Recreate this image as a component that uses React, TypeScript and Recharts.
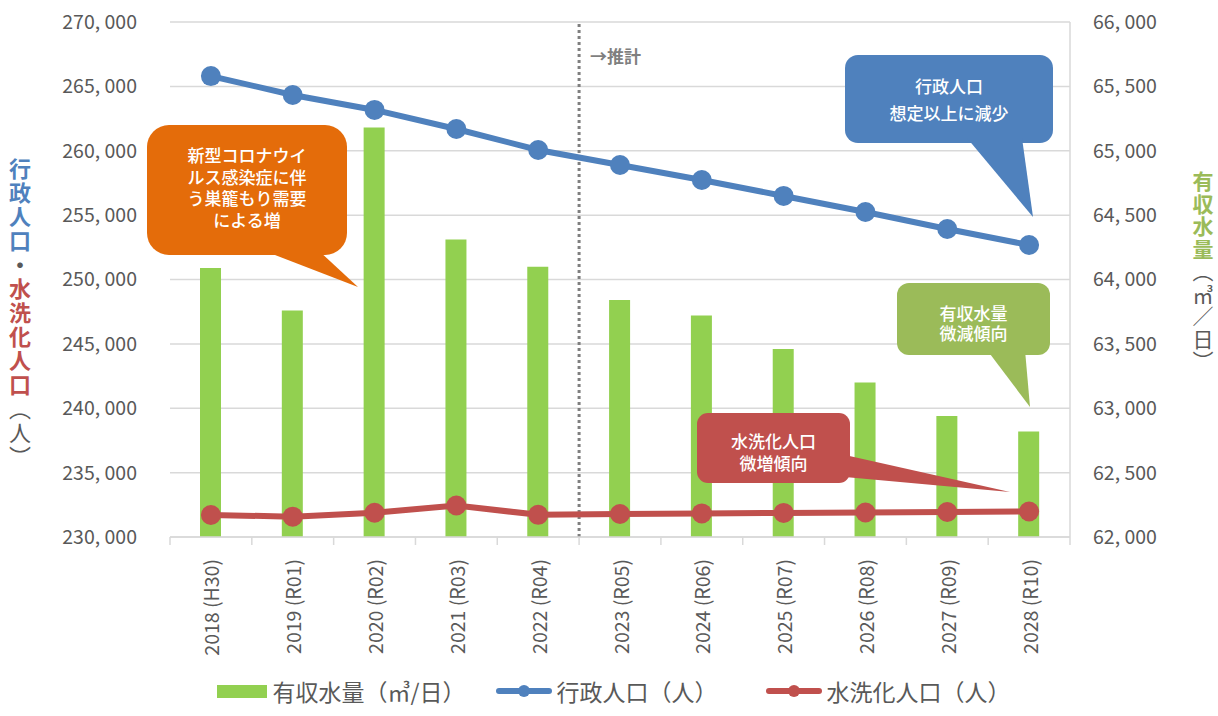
import {
  ComposedChart,
  Bar,
  Line,
  XAxis,
  YAxis,
  CartesianGrid,
  ReferenceLine,
  Legend,
} from "recharts";

const years = [
  "2018 (H30)", "2019 (R01)", "2020 (R02)", "2021 (R03)", "2022 (R04)", "2023 (R05)",
  "2024 (R06)", "2025 (R07)", "2026 (R08)", "2027 (R09)", "2028 (R10)",
];
// 有収水量 (m3/日) - right axis
const waterVolume = [64090, 63760, 65180, 64310, 64100, 63840, 63720, 63460, 63200, 62940, 62820];
// 行政人口 (人) - left axis
const adminPop = [265800, 264330, 263170, 261690, 260060, 258890, 257730, 256490, 255240, 253920, 252680];
// 水洗化人口 (人) - left axis
const sewerPop = [231710, 231580, 231880, 232450, 231720, 231790, 231830, 231870, 231900, 231940, 231980];

const leftTicks = [230000, 235000, 240000, 245000, 250000, 255000, 260000, 265000, 270000];
const rightTicks = [62000, 62500, 63000, 63500, 64000, 64500, 65000, 65500, 66000];
const forecastStart = "2023 (R05)";

const FONT = "'Noto Sans CJK JP', 'Noto Sans', sans-serif";
const TEXT = "#595959";
const GREEN = "#92d050";
const BLUE = "#4f81bd";
const RED = "#c0504d";
const HALF_BAND = 900 / 11 / 2;

const data = years.map((y, i) => ({
  year: y,
  water: waterVolume[i],
  admin: adminPop[i],
  sewer: sewerPop[i],
}));

// Excel-style "270, 000" look
const fmt = (v: number) => v.toLocaleString("en-US").replace(/,/g, ", ");

function XTick(props: any) {
  const { x, y, payload, index } = props;
  return (
    <g>
      <line x1={x - HALF_BAND} y1={y} x2={x - HALF_BAND} y2={y + 8} stroke="#d9d9d9" strokeWidth={1.5} />
      {index === years.length - 1 && (
        <line x1={x + HALF_BAND} y1={y} x2={x + HALF_BAND} y2={y + 8} stroke="#d9d9d9" strokeWidth={1.5} />
      )}
      <text
        x={x}
        y={y + 22}
        transform={`rotate(-90 ${x} ${y + 22})`}
        textAnchor="end"
        dominantBaseline="central"
        fill={TEXT}
        fontSize={19.5}
        fontFamily={FONT}
      >
        {payload.value}
      </text>
    </g>
  );
}

function LegendContent() {
  const item = { display: "flex", alignItems: "center", gap: 5 } as const;
  return (
    <div
      style={{
        display: "flex",
        justifyContent: "center",
        alignItems: "center",
        fontFamily: FONT,
        fontSize: 23,
        color: TEXT,
        height: 40,
        marginTop: -5,
        paddingLeft: 10,
      }}
    >
      <div style={{ ...item, marginRight: 30 }}>
        <div style={{ width: 50, height: 13, background: GREEN }} />
        <span>有収水量（㎥/日）</span>
      </div>
      <div style={{ ...item, marginRight: 48 }}>
        <svg width={56} height={14}>
          <line x1={3} y1={7} x2={53} y2={7} stroke={BLUE} strokeWidth={6} strokeLinecap="round" />
          <circle cx={28} cy={7} r={6} fill={BLUE} />
        </svg>
        <span>行政人口（人）</span>
      </div>
      <div style={item}>
        <svg width={56} height={14}>
          <line x1={3} y1={7} x2={53} y2={7} stroke={RED} strokeWidth={6} strokeLinecap="round" />
          <circle cx={28} cy={7} r={6} fill={RED} />
        </svg>
        <span>水洗化人口（人）</span>
      </div>
    </div>
  );
}

function Callout(props: {
  x: number; y: number; w: number; h: number; r: number;
  tail: [number, number][]; fill: string; lines: string[]; lineY: number[];
}) {
  const { x, y, w, h, r, tail, fill, lines, lineY } = props;
  const cx = x + w / 2;
  return (
    <g>
      <rect x={x} y={y} width={w} height={h} rx={r} ry={r} fill={fill} />
      <polygon points={tail.map((p) => p.join(",")).join(" ")} fill={fill} />
      {lines.map((t, i) => (
        <text
          key={i}
          x={cx}
          y={lineY[i]}
          textAnchor="middle"
          dominantBaseline="central"
          fill="#ffffff"
          fontSize={17}
          fontWeight={500}
          fontFamily={FONT}
        >
          {t}
        </text>
      ))}
    </g>
  );
}

export default function App() {
  return (
    <div style={{ position: "absolute", left: 0, top: 0, width: 1218, height: 716, background: "#fff", fontFamily: FONT, overflow: "hidden" }}>
      <ComposedChart
        width={1218}
        height={716}
        data={data}
        margin={{ top: 22, right: 0, left: 0, bottom: 0 }}
      >
        <CartesianGrid vertical={false} stroke="#d9d9d9" strokeWidth={1.5} yAxisId="left" />
        <XAxis
          dataKey="year"
          height={139}
          interval={0}
          tickSize={0}
          tickMargin={0}
          tickLine={false}
          axisLine={{ stroke: "#d9d9d9", strokeWidth: 1.5 }}
          tick={<XTick />}
        />
        <YAxis
          yAxisId="left"
          domain={[230000, 270000]}
          ticks={leftTicks}
          allowDataOverflow
          width={170}
          axisLine={false}
          tickLine={false}
          tickSize={0}
          tickMargin={33}
          tickFormatter={fmt}
          tick={{ fill: TEXT, fontSize: 19.5, fontFamily: FONT }}
        />
        <YAxis
          yAxisId="right"
          orientation="right"
          domain={[62000, 66000]}
          ticks={rightTicks}
          allowDataOverflow
          width={148}
          axisLine={{ stroke: "#d9d9d9", strokeWidth: 1.5 }}
          tickLine={false}
          tickSize={0}
          tickMargin={23}
          tickFormatter={fmt}
          tick={{ fill: TEXT, fontSize: 19.5, fontFamily: FONT }}
        />
        <Bar yAxisId="right" dataKey="water" name="有収水量（㎥/日）" barSize={21} fill={GREEN} isAnimationActive={false} />
        <ReferenceLine
          yAxisId="left"
          x={forecastStart}
          position="start"
          stroke="#7f7f7f"
          strokeWidth={3}
          strokeDasharray="3 3"
        />
        <Line
          yAxisId="left"
          dataKey="admin"
          name="行政人口（人）"
          stroke={BLUE}
          strokeWidth={6}
          dot={{ r: 10, fill: BLUE, stroke: BLUE, strokeWidth: 0 }}
          isAnimationActive={false}
        />
        <Line
          yAxisId="left"
          dataKey="sewer"
          name="水洗化人口（人）"
          stroke={RED}
          strokeWidth={6}
          dot={{ r: 10, fill: RED, stroke: RED, strokeWidth: 0 }}
          isAnimationActive={false}
        />
        <Legend verticalAlign="bottom" height={40} content={<LegendContent />} />
      </ComposedChart>

      <svg
        width={1218}
        height={716}
        style={{ position: "absolute", left: 0, top: 0, pointerEvents: "none" }}
      >
        <text x={590} y={55} dominantBaseline="central" fill="#7f7f7f" fontSize={17} fontWeight={600} fontFamily={FONT}>
          →推計
        </text>
        <Callout
          x={147} y={125} w={200} h={130} r={22}
          tail={[[262, 250], [318, 250], [358, 287]]}
          fill="#e46c0a"
          lines={["新型コロナウイ", "ルス感染症に伴", "う巣籠もり需要", "による増"]}
          lineY={[154, 176, 197, 219]}
        />
        <Callout
          x={845} y={55} w={208} h={88} r={13}
          tail={[[967, 138], [1022, 138], [1033, 217]]}
          fill={BLUE}
          lines={["行政人口", "想定以上に減少"]}
          lineY={[85, 112]}
        />
        <Callout
          x={897} y={283} w={153} h={72} r={12}
          tail={[[987, 350], [1025, 350], [1030, 407]]}
          fill="#9bbb59"
          lines={["有収水量", "微減傾向"]}
          lineY={[312, 332]}
        />
        <Callout
          x={697} y={413} w={153} h={70} r={11}
          tail={[[845, 455], [845, 477], [1010, 492]]}
          fill={RED}
          lines={["水洗化人口", "微増傾向"]}
          lineY={[440, 462]}
        />
      </svg>

      <div
        style={{
          position: "absolute",
          left: 8,
          top: 158,
          width: 24,
          writingMode: "vertical-rl",
          fontSize: 22,
          lineHeight: "24px",
          letterSpacing: 2,
          fontFamily: FONT,
          color: TEXT,
        }}
      >
        <span style={{ color: BLUE, fontWeight: 700 }}>行政人口</span>
        <span style={{ fontWeight: 700 }}>・</span>
        <span style={{ color: RED, fontWeight: 700 }}>水洗化人口</span>
        <span>（人）</span>
      </div>
      <div
        style={{
          position: "absolute",
          left: 1191,
          top: 171,
          width: 24,
          writingMode: "vertical-rl",
          fontSize: 21,
          lineHeight: "24px",
          letterSpacing: 1.5,
          fontFamily: FONT,
          color: TEXT,
        }}
      >
        <span style={{ color: "#9bbb59", fontWeight: 700 }}>有収水量</span>
        <span>（㎥／日）</span>
      </div>
    </div>
  );
}
